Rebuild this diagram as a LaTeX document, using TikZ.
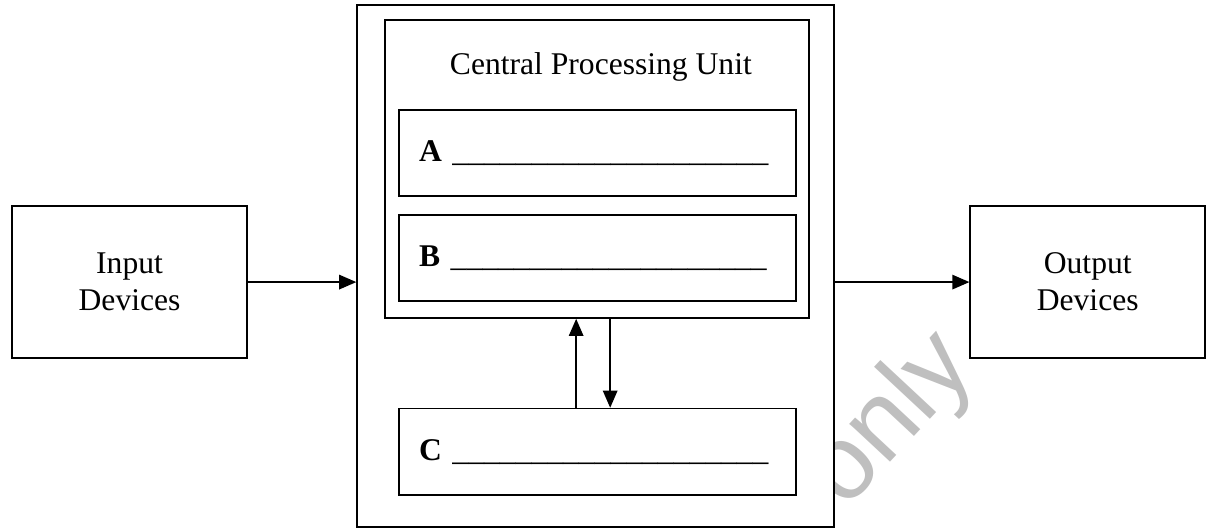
\documentclass[tikz,border=0pt]{standalone}
\usepackage{fontspec}
\setmainfont{Liberation Serif}
\newfontfamily\markfont{Liberation Sans}
\usetikzlibrary{arrows.meta,positioning}
\newcommand{\blank}{\_\_\_\_\_\_\_\_\_\_\_\_\_\_\_\_\_\_\_\_}

\begin{document}
\begin{tikzpicture}[
    node distance=0.227cm,
    box/.style={draw, line width=0.6pt, minimum width=3.137cm,
                minimum height=2.029cm, align=center, font=\fontsize{12}{14}\selectfont},
    frame/.style={draw, line width=0.6pt, fill=white, inner sep=0pt},
    slot/.style={draw, line width=0.6pt, minimum width=5.3cm,
                 minimum height=1.15cm, inner xsep=0.267cm,
                 text width=4.766cm, align=left, font=\fontsize{12}{14}\selectfont},
    arrow/.style={-{Triangle[length=6.5pt,width=5.5pt]}, line width=0.6pt},
]
  \useasboundingbox (0,0) rectangle (16.19,-7.075);

  % Watermark (behind the main frame)
  \node[text=black!25, rotate=47, font=\markfont\fontsize{40}{40}\selectfont]
    (mark) at (11.90,-5.62) {only};

  % Side boxes
  \node[box] (in) at (1.729,-3.765) {Input\\Devices};
  \node[box] (out) at (14.518,-3.765) {Output\\Devices};

  % Main frame and CPU
  \node[frame, minimum width=6.368cm, minimum height=6.969cm] (sys)
    at (7.950,-3.551) {};
  \node[frame, minimum width=5.660cm, minimum height=3.978cm] (cpu)
    at (7.970,-2.256) {};
  \node[anchor=base, font=\fontsize{12}{14}\selectfont] (title)
    at ([xshift=0.05cm,yshift=-0.734cm]cpu.north) {Central Processing Unit};

  % Slots
  \node[slot] (A) at (7.977,-2.043) {\textbf{A} \blank};
  \node[slot, below=of A] (B) {\textbf{B} \blank};
  \node[slot] (C) at (7.977,-6.028) {\textbf{C} \blank};

  % Arrows
  \draw[arrow] (in) -- (in -| sys.west);
  \draw[arrow] (sys.east |- out) -- (out);
  \draw[arrow] ([xshift=-0.287cm]C.north) -- ([xshift=-0.287cm]C.north |- cpu.south);
  \draw[arrow] ([xshift=0.167cm]C.north |- cpu.south) -- ([xshift=0.167cm]C.north);
\end{tikzpicture}
\end{document}
